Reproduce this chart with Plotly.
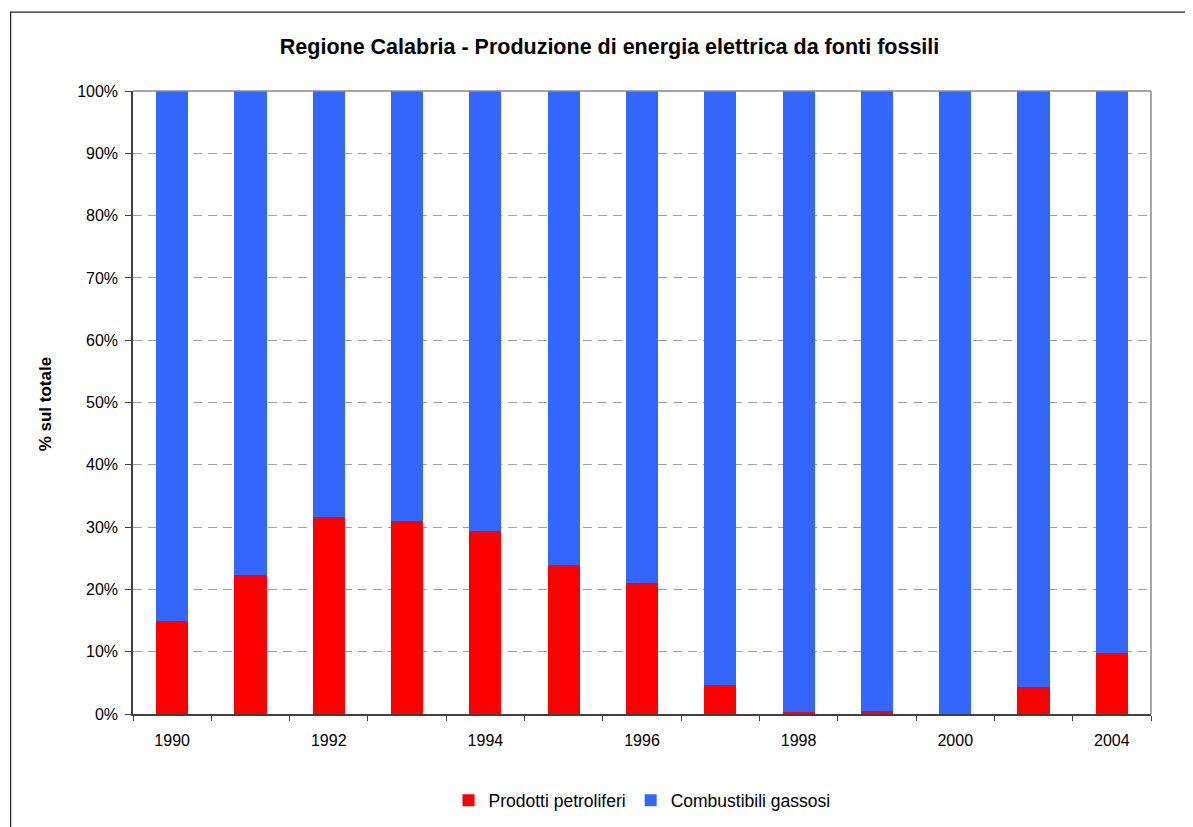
import plotly.graph_objects as go

years = ["1990", "1991", "1992", "1993", "1994", "1995", "1996", "1997", "1998", "1999", "2000", "2001", "2004"]
prodotti_petroliferi = [14.9, 22.3, 31.6, 30.9, 29.4, 23.9, 21.0, 4.6, 0.4, 0.5, 0.0, 4.4, 9.8]
combustibili_gassosi = [100 - v for v in prodotti_petroliferi]
label_years = ["1990", "1992", "1994", "1996", "1998", "2000", "2004"]
y_ticks = [0, 10, 20, 30, 40, 50, 60, 70, 80, 90, 100]

xpos = list(range(len(years)))
label_pos = [years.index(y) for y in label_years]

# page is offset by 8px body margin; plot area in page coords: x 132.5-1151.5, y 91-714.5
PX0, PW, PY0, PH = 132.5, 1019.0, 714.5, 623.5
def px(x):
    return (x - PX0) / PW
def py(y):
    return (PY0 - y) / PH

W, H = 1185, 819
fig = go.Figure()
fig.add_trace(go.Bar(x=xpos, y=prodotti_petroliferi, name="Prodotti petroliferi",
                     marker=dict(color="#FF0000", line=dict(width=0)), width=0.41))
fig.add_trace(go.Bar(x=xpos, y=combustibili_gassosi, name="Combustibili gassosi",
                     marker=dict(color="#3366FF", line=dict(width=0)), width=0.41))

font = "Liberation Sans, Arial, sans-serif"
fig.update_layout(
    barmode="stack",
    width=W, height=H,
    margin=dict(l=124.5, r=W - 124.5 - PW, t=83, b=H - 83 - PH, pad=0, autoexpand=False),
    paper_bgcolor="white", plot_bgcolor="white",
    font=dict(family=font, size=16, color="black"),
    title=dict(text="<b>Regione Calabria - Produzione di energia elettrica da fonti fossili</b>",
               x=px(609.5), xref="paper", xanchor="center", y=1 - (46.7 - 8) / H, yanchor="middle",
               font=dict(size=21.5, family=font, color="black")),
    showlegend=True,
    legend=dict(orientation="h", x=0.5, xanchor="center", y=py(801), yanchor="middle",
                font=dict(size=17.5, family=font), traceorder="normal", itemwidth=30),
    xaxis=dict(range=[-0.5, 12.5], tickvals=label_pos, ticktext=label_years,
               ticks="", showgrid=False, zeroline=False, automargin=False,
               showline=True, linecolor="#404040", linewidth=1.5,
               tickfont=dict(size=16), ticklabelstandoff=11,
               minor=dict(ticks="outside", tick0=-0.5, dtick=1, ticklen=5, tickcolor="#404040", showgrid=False)),
    yaxis=dict(range=[0, 100], tickvals=y_ticks, ticktext=[f"{v}%" for v in y_ticks],
               ticks="outside", ticklen=6, tickcolor="#404040", automargin=False,
               showgrid=True, gridcolor="#A0A0A0", griddash="9px,6px", gridwidth=1,
               zeroline=False, showline=True, linecolor="#404040", linewidth=1.5,
               tickfont=dict(size=16), ticklabelstandoff=4),
    shapes=[
        dict(type="line", xref="paper", yref="paper", x0=0, x1=1, y0=1, y1=1,
             line=dict(color="#888888", width=1.5)),
        dict(type="line", xref="paper", yref="paper", x0=1, x1=1, y0=0, y1=1,
             line=dict(color="#888888", width=1.5)),
        dict(type="rect", xref="paper", yref="paper", x0=px(10), x1=1.2,
             y0=-0.3, y1=py(12), line=dict(color="#222222", width=1.2),
             layer="below"),
    ],
    annotations=[
        dict(text="<b>% sul totale</b>", xref="paper", yref="paper",
             x=px(45), y=py(405), textangle=-90, showarrow=False,
             font=dict(size=17, family=font, color="black"), xanchor="center", yanchor="middle"),
    ],
)

fig.write_html("out.html")
